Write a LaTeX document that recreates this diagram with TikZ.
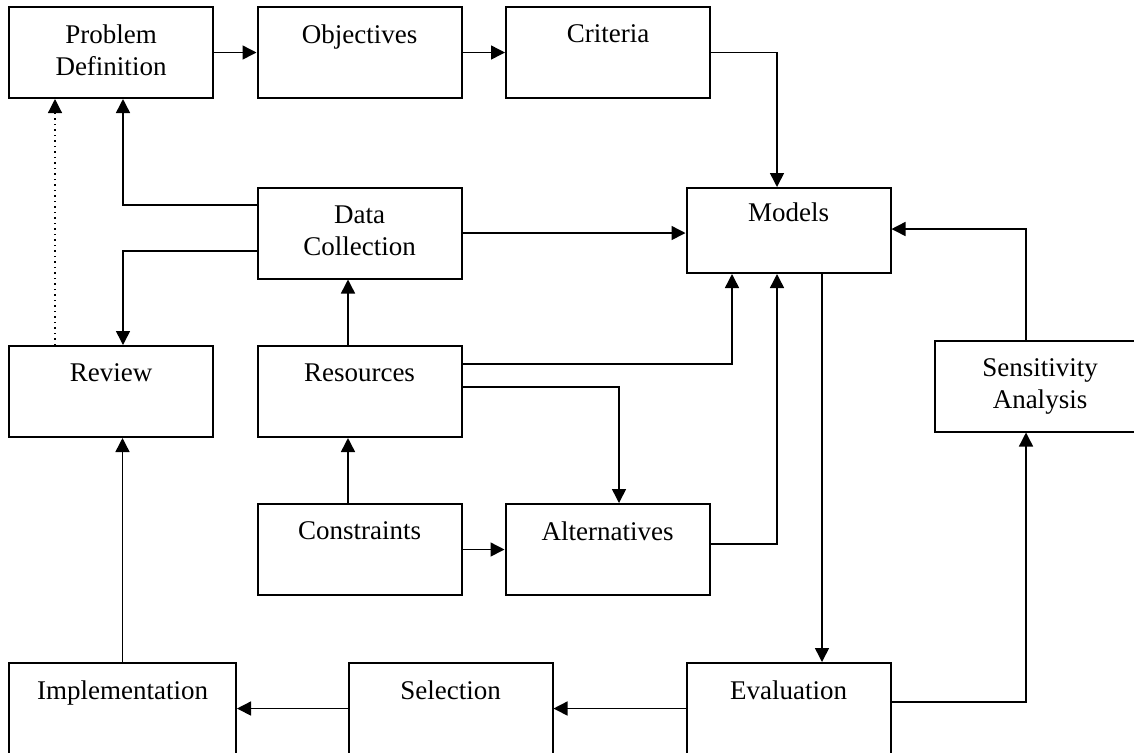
\documentclass[tikz,border=0pt]{standalone}
\usepackage{fontspec}
\setmainfont{Liberation Serif}
\usetikzlibrary{arrows.meta,calc}

\begin{document}
\begin{tikzpicture}[x=0.5pt,y=-0.5pt, box/.style={draw,line width=1pt,minimum width=102pt,minimum height=45.5pt,inner sep=0pt,align=center,text depth=2.5pt,font=\fontsize{13.5}{16}\selectfont}, arr/.style={-{Triangle[length=7pt,width=7pt]},line width=0.75pt}]
\clip (0,0) rectangle (1134,752);
\node[box] (pd) at (111,52.5) {Problem\\Definition};\node[box] (obj) at (359.5,52.5) {Objectives\\\mbox{}};\node[box] (crit) at (608,52.5) {Criteria\\\mbox{}};
\node[box] (dc) at (359.5,233) {Data\\Collection};\node[box,minimum height=42.5pt] (models) at (788.5,230.5) {Models\\\mbox{}};
\node[box] (rev) at (111,391.5) {Review\\\mbox{}};\node[box] (res) at (359.5,391.5) {Resources\\\mbox{}};\node[box,minimum width=105pt] (sens) at (1040,386) {Sensitivity\\Analysis};
\node[box] (cons) at (359.5,549.5) {Constraints\\\mbox{}};\node[box] (alt) at (607.5,549.5) {Alternatives\\\mbox{}};
\node[box,minimum width=113.5pt] (impl) at (122.5,708.5) {Implementation\\\mbox{}};\node[box] (sel) at (450.5,708.5) {Selection\\\mbox{}};\node[box] (eval) at (788.5,708.5) {Evaluation\\\mbox{}};
\draw[arr] (pd)--(obj);\draw[arr] (obj)--(crit);\draw[arr] (crit.east) -| ($(models.north)+(-11.5,0)$);
\draw[arr] ($(dc.west)+(0,-28)$) -| ($(pd.south)+(12,0)$);\draw[arr] ($(dc.west)+(0,18)$) -| ($(rev.north)+(12,0)$);\draw[arr,dotted,line width=0.6pt] ($(rev.north)+(-56,0)$) -- ($(pd.south)+(-56,0)$);
\draw[arr] (dc.east) -- (dc.east -| models.west);\draw[arr] ($(res.north)+(-11.5,0)$) -- ($(dc.south)+(-11.5,0)$);\draw[arr] ($(cons.north)+(-11.5,0)$) -- ($(res.south)+(-11.5,0)$);
\draw[arr] ($(res.east)+(0,-27.5)$) -| ($(models.south)+(-56.5,0)$);\draw[arr] ($(res.east)+(0,-4.5)$) -| ($(alt.north)+(11.5,0)$);
\draw[arr] ($(alt.east)+(0,-5.5)$) -| ($(models.south)+(-11.5,0)$);\draw[arr] (cons)--(alt);
\draw[arr] ($(models.south)+(33.5,0)$) -- ($(eval.north)+(33.5,0)$);\draw[arr] ($(eval.east)+(0,-6.5)$) -| ($(sens.south)+(-14,0)$);\draw[arr] ($(sens.north)+(-14,0)$) |- ($(models.east)+(0,-1.5)$);
\draw[arr] (eval)--(sel);\draw[arr] (sel)--(impl);\draw[arr] (impl.north) -- (impl.north |- rev.south);
\end{tikzpicture}
\end{document}
